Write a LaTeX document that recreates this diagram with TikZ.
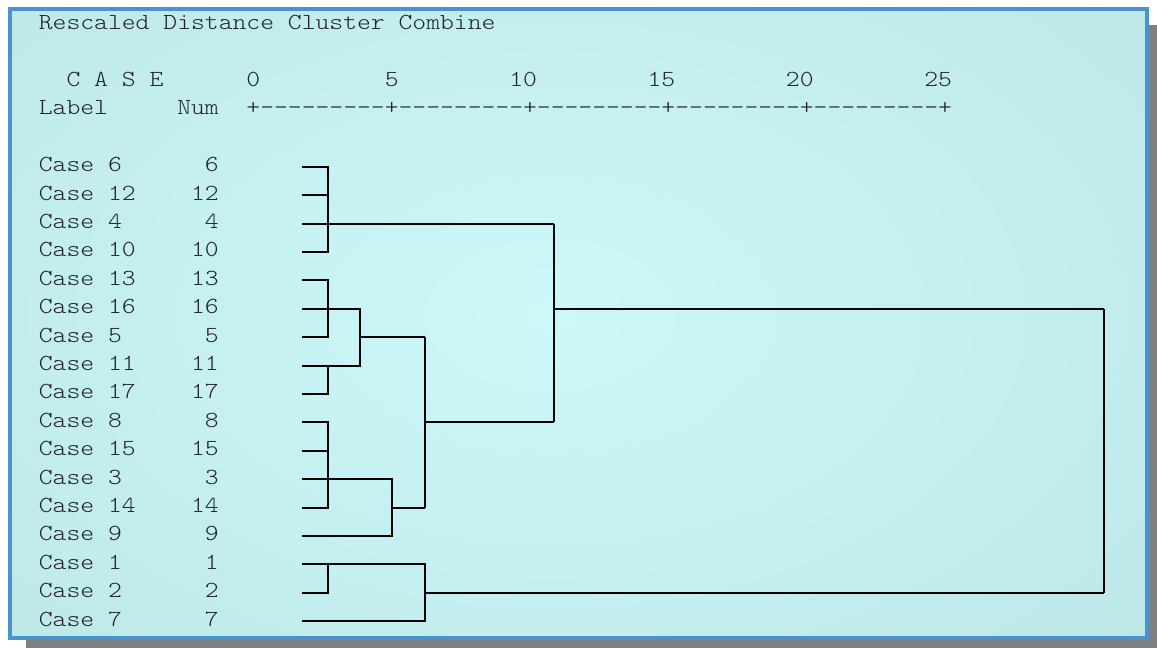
\documentclass[tikz,border=0pt]{standalone}
\usepackage{fontspec}
\newfontfamily\cour{lmmonolt10-regular.otf}[FakeStretch=1.1458, Ligatures=TeXOff]
\definecolor{bgout}{HTML}{B9E3E5}
\definecolor{bgin}{HTML}{CDF8FA}
\definecolor{frameblue}{HTML}{4A94CE}
\definecolor{shadowgray}{HTML}{808080}
\definecolor{txtcol}{HTML}{222222}
\tikzset{
  txt/.style={inner sep=0pt, outer sep=0pt, text=txtcol, font=\fontsize{23}{28}\cour},
  dl/.style={line width=2pt, black, line join=miter},
}
\begin{document}
\begin{tikzpicture}[x=1pt, y=-1pt]
\useasboundingbox (0,0) rectangle (1157,648);
% shadow and frame
\fill[shadowgray] (26,25) rectangle (1157,648);
\fill[bgout] (10,9) rectangle (1147,638);
\begin{scope}
  \clip (10,9) rectangle (1147,638);
  \shade[inner color=bgin, outer color=bgout] (550,315) ellipse [x radius=1000, y radius=620];
\end{scope}
\draw[frameblue, line width=4pt] (10,9) rectangle (1147,638);

% header text
\node[txt, anchor=base west] (title) at (38.9,29.7) {Rescaled Distance Cluster Combine};
\node[txt, anchor=base west] (case) at ({38.9+2*13.835},86.5) {C A S E};
\node[txt, anchor=base west] (label) at (38.9,114.9) {Label};
\node[txt, anchor=base west] (num) at ({38.9+10*13.835},114.9) {Num};
\node[txt, anchor=base west] (s0) at ({38.9+15*13.835},86.5) {0};
\node[txt, anchor=base west] (s5) at ({38.9+25*13.835},86.5) {5};
\node[txt, anchor=base west] (s10) at ({38.9+34*13.835},86.5) {10};
\node[txt, anchor=base west] (s15) at ({38.9+44*13.835},86.5) {15};
\node[txt, anchor=base west] (s20) at ({38.9+54*13.835},86.5) {20};
\node[txt, anchor=base west] (s25) at ({38.9+64*13.835},86.5) {25};
\node[txt, anchor=base west] (scale) at ({38.9+15*13.835},114.9) {+---------+---------+---------+---------+---------+};

% rows
\foreach \n [count=\i from 0] in {6,12,4,10,13,16,5,11,17,8,15,3,14,9,1,2,7} {
  \node[txt, anchor=base west] (lab\i) at (38.9,{171.7+28.4*\i}) {Case \n};
  \node[txt, anchor=base east] (num\i) at ({38.9+13*13.835},{171.7+28.4*\i}) {\n};
  \coordinate (r\i) at (302,{166.7+28.4*\i});
}
\coordinate (x1) at (328,0);
\coordinate (x2) at (360,0);
\coordinate (x3) at (392,0);
\coordinate (x4) at (425,0);
\coordinate (x5) at (554,0);
\coordinate (x6) at (1104,0);

% dendrogram
\draw[dl] (r0) -| (r3-|x1) -- (r3);
\draw[dl] (r1) -- (r1-|x1);
\draw[dl] (r2) -- (r2-|x5);
\draw[dl] (r4) -| (r6-|x1) -- (r6);
\draw[dl] (r5) -| (r7-|x2) -- (r7);
\draw[dl] (r8) -| (r7-|x1);
\draw[dl] (r6-|x2) -- (r6-|x4);
\draw[dl] (r9) -| (r12-|x1) -- (r12);
\draw[dl] (r10) -- (r10-|x1);
\draw[dl] (r11) -| (r13-|x3) -- (r13);
\draw[dl] (r12-|x3) -- (r12-|x4);
\draw[dl] (r6-|x4) |- (r9-|x5);
\draw[dl] (r9-|x4) -- (r12-|x4);
\draw[dl] (r2-|x5) |- (r5-|x6);
\draw[dl] (r5-|x5) -- (r9-|x5);
\draw[dl] (r14) -| (r16-|x4) -- (r16);
\draw[dl] (r15) -| (r14-|x1);
\draw[dl] (r15-|x4) -- (r15-|x6);
\draw[dl] (r5-|x6) -- (r15-|x6);
\end{tikzpicture}
\end{document}
